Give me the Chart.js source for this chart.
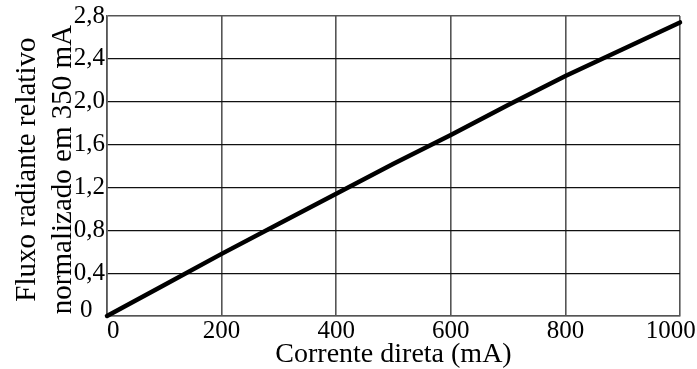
<!DOCTYPE html>
<html>
<head>
<meta charset="utf-8">
<script src="https://cdn.jsdelivr.net/npm/chart.js@4/dist/chart.umd.min.js"></script>
<style>
  html, body { margin: 0; padding: 0; background: #fff; }
  #wrap { position: relative; width: 697px; height: 369px; }
</style>
</head>
<body>
<div id="wrap"><canvas id="chart"></canvas></div>
<script>
// corrente (mA) e fluxo relativo
const currentMA = [0, 100, 200, 300, 400, 500, 600, 700, 800, 900, 1000];
const fluxRel   = [0, 0.29, 0.58, 0.86, 1.14, 1.42, 1.69, 1.97, 2.24, 2.49, 2.74];

// rótulos dos eixos
const xTickLabels = ["  0", "200", "400", "600", "800", "1000   "];
const yTickLabels = [["0  ", ""], "0,4", "0,8", "1,2", "1,6", "2,0", "2,4", "2,8"];

const SERIF = '"Liberation Serif", "Times New Roman", serif';

const el = (id) => document.getElementById(id);

const points = currentMA.map((x, i) => ({ x, y: fluxRel[i] }));

// tamanho fixo dos eixos, sem folga extra dos rótulos nas pontas
function fixX(s){ s.height = 53; s.paddingLeft = 0; s.paddingRight = 0; }
function fixY(s){ s.width = 107; s.paddingTop = 0; s.paddingBottom = 0; }

new Chart(el("chart").getContext("2d"), {
  type: "line",
  data: {
    datasets: [{
      data: points,
      borderColor: "#000",
      borderWidth: 4.5,
      borderCapStyle: "round",
      pointRadius: 0,
      tension: 0,
      clip: false
    }]
  },
  options: {
    responsive: true,
    maintainAspectRatio: false,
    animation: false,
    layout: { padding: { top: 16, right: 17, left: 0, bottom: 0 }, autoPadding: false },
    plugins: { legend: { display: false }, tooltip: { enabled: false } },
    scales: {
      x: {
        type: "linear",
        min: 0, max: 1000,
        afterFit: fixX,
        grid: { color: "#555", lineWidth: 1.6, drawTicks: false },
        border: { color: "#555", width: 1.6 },
        ticks: {
          stepSize: 200,
          autoSkip: false,
          maxRotation: 0,
          padding: 0,
          color: "#000",
          font: { family: SERIF, size: 25, lineHeight: 1.2 },
          callback: (v, i) => xTickLabels[i]
        },
        title: {
          display: true,
          text: "Corrente direta (mA)",
          color: "#000",
          padding: { top: 0, bottom: 0 },
          font: { family: SERIF, size: 28, lineHeight: 1 }
        }
      },
      y: {
        min: 0, max: 2.8,
        afterFit: fixY,
        grid: {
          color: (c) => (c.tick && c.tick.value >= 2.8 ? "#555" : "#111"),
          lineWidth: (c) => (c.tick && c.tick.value >= 2.8 ? 1.6 : 1.2),
          drawTicks: false
        },
        border: { color: "#555", width: 1.6 },
        ticks: {
          stepSize: 0.4,
          autoSkip: false,
          padding: 2,
          color: "#000",
          font: (c) => c.index === 0
            ? { family: SERIF, size: 25, lineHeight: "12px" }
            : { family: SERIF, size: 25, lineHeight: 1.2 },
          callback: (v, i) => yTickLabels[i]
        },
        title: {
          display: true,
          text: ["Fluxo radiante relativo ", "normalizado em 350 mA "],
          color: "#000",
          padding: { top: 9, bottom: 0 },
          font: { family: SERIF, size: 29, lineHeight: 1.25 }
        }
      }
    }
  }
});
</script>
</body>
</html>
